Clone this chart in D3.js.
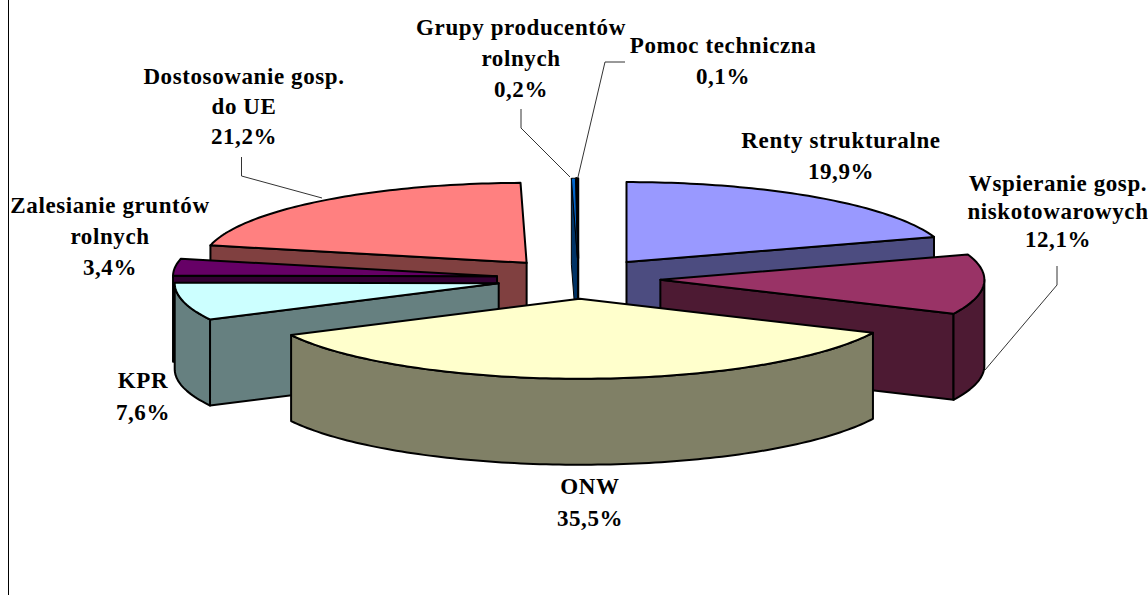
<!DOCTYPE html>
<html><head><meta charset="utf-8">
<script src="https://cdn.jsdelivr.net/npm/d3@7"></script>
<style>html,body{margin:0;padding:0;background:#fff}svg{display:block}text{font-family:"Liberation Serif",serif;font-weight:bold;font-size:23px;fill:#000;text-anchor:middle}</style>
</head><body><svg id="c" width="1148" height="595"></svg>
<script>
const categories=["Renty strukturalne","Wspieranie gosp. niskotowarowych","ONW","KPR","Zalesianie gruntów rolnych","Dostosowanie gosp. do UE","Grupy producentów rolnych","Pomoc techniczna"];
const values=[19.9,12.1,35.5,7.6,3.4,21.2,0.2,0.1];
const valueLabels=["19,9%","12,1%","35,5%","7,6%","3,4%","21,2%","0,2%","0,1%"];
const topColors=["#9999ff","#993366","#ffffcc","#ccffff","#660066","#ff8080","#0066cc","#ccccff"];
const wallColors=["#4c4c80","#4d1a33","#808066","#668080","#330033","#804040","#003366","#666680"];

const W=1148,H=595,cx=578.5,cy=278.5,rx=324,ry=80,depth=86,explode=82;
const svg=d3.select("#c");
svg.append("line").attr("x1",8.5).attr("x2",8.5).attr("y1",0).attr("y2",H).attr("stroke","#000").attr("stroke-width",1);

const slices=d3.pie().sort(null).value(d=>d).startAngle(0).endAngle(2*Math.PI)(values)
  .map((d,i)=>{const m=(d.startAngle+d.endAngle)/2;
    return {i,a0:d.startAngle,a1:d.endAngle,
      ax:cx+explode*Math.sin(m),ay:cy-explode*Math.cos(m)*ry/rx};});
const pt=(s,a,r=1,dz=0)=>[s.ax+rx*r*Math.sin(a),s.ay-ry*r*Math.cos(a)+dz];
const line=d3.line();
const arcPts=(s,a0,a1,dz=0)=>{const n=Math.max(2,Math.ceil((a1-a0)/0.02));
  return d3.range(n+1).map(k=>pt(s,a0+(a1-a0)*k/n,1,dz));};

// painter's order: back slices first
const order=[7,6,0,5,4,3,1,2];
const PI=Math.PI;
const g=svg.append("g").attr("stroke","#000").attr("stroke-linejoin","round");
order.forEach(i=>{
  const s=slices[i],c=wallColors[i];
  const sw=i===6?1:2;
  const quad=a=>[[s.ax,s.ay],pt(s,a),pt(s,a,1,depth),[s.ax,s.ay+depth]];
  if(Math.sin(s.a0)<0) g.append("path").attr("d",line(quad(s.a0))+"Z").attr("fill",c).attr("stroke-width",sw);
  if(Math.sin(s.a1)>0.001) g.append("path").attr("d",line(quad(s.a1))+"Z").attr("fill",c).attr("stroke-width",sw);
  const f0=Math.max(s.a0,PI/2),f1=Math.min(s.a1,3*PI/2);
  if(f1>f0){
    const band=arcPts(s,f0,f1).concat(arcPts(s,f0,f1,depth).reverse());
    g.append("path").attr("d",line(band)+"Z").attr("fill",c).attr("stroke-width",sw);
  }
  g.append("path").attr("d",line([[s.ax,s.ay],...arcPts(s,s.a0,s.a1)])+"Z").attr("fill",topColors[i]).attr("stroke-width",sw);
});

// leader lines
const leaders=[
 [[1057,266],[1057,285],[985,370]],
 [[521,109],[521,128],[570,177]],
 [[625,62],[605,62],[578,177]],
 [[241.5,157],[241.5,176],[322,198]]
];
const lg=svg.append("g").attr("fill","none").attr("stroke","#333").attr("stroke-width",1);
leaders.forEach(l=>lg.append("path").attr("d",line(l)));

// labels: category lines + value line
const labelLines=[["Renty strukturalne"],["Wspieranie gosp."," niskotowarowych"],["ONW"],["KPR"],["Zalesianie gruntów","rolnych"],["Dostosowanie gosp.","do UE"],["Grupy producentów","rolnych"],["Pomoc techniczna"]];
const labelAnchor=[[841,148],[1058,191],[590,494],[143,388],[110,213],[244,84],[521,35],[723,53]];
const lineH=[31,28,32,32,31,30,31,31];
const labels=svg.append("g");
labelLines.forEach((ls,i)=>{
  [...ls,valueLabels[i]].forEach((t,k)=>{
    labels.append("text").attr("x",labelAnchor[i][0]).attr("y",labelAnchor[i][1]+k*lineH[i]).attr("letter-spacing","0.6px").text(t);
  });
});
</script></body></html>
